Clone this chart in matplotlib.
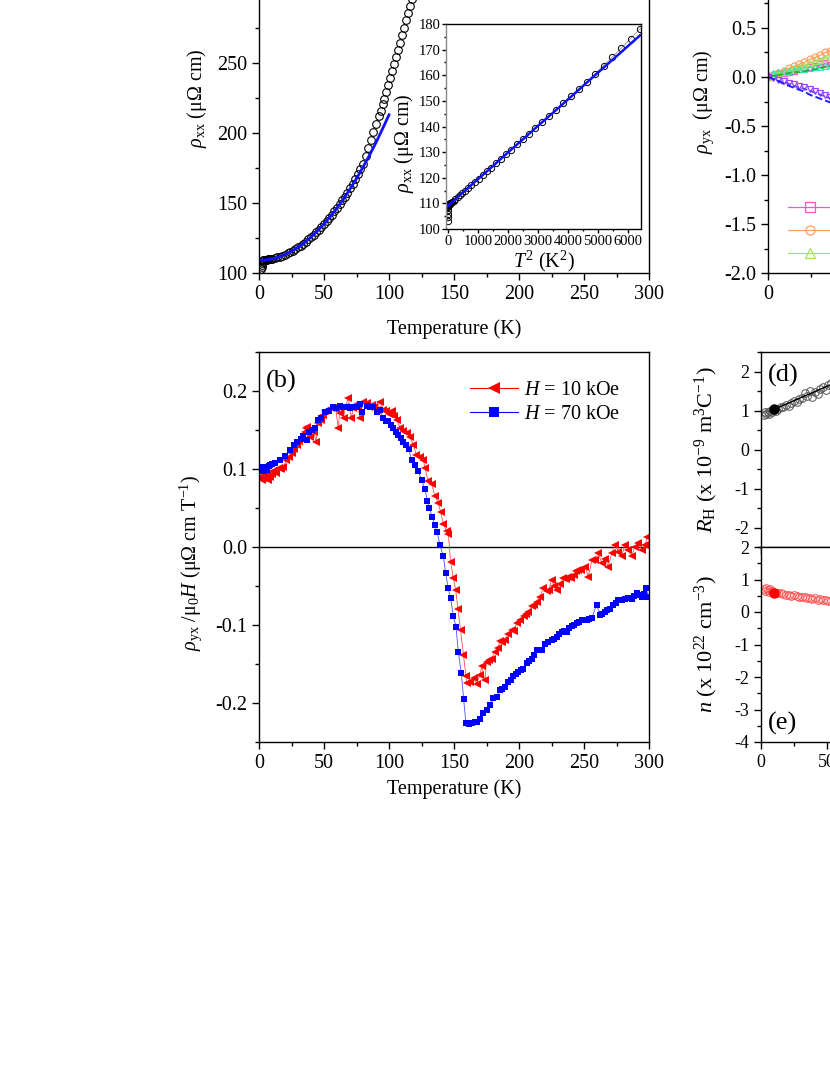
import numpy as np
import matplotlib
matplotlib.use("Agg")
import matplotlib.pyplot as plt
from matplotlib.ticker import MultipleLocator, FormatStrFormatter

plt.rcParams['font.family'] = ['Liberation Serif', 'DejaVu Serif']
plt.rcParams['mathtext.fontset'] = 'custom'
plt.rcParams['mathtext.rm'] = 'Liberation Serif'
plt.rcParams['mathtext.it'] = 'Liberation Serif:italic'
plt.rcParams['mathtext.bf'] = 'Liberation Serif:bold'
plt.rcParams['axes.unicode_minus'] = False

# ---- (a) rho_xx vs T ----
T_a = [1.8, 2.0, 2.2, 2.5, 2.8, 3.2, 4, 5, 6, 7, 8, 9, 10, 12, 14, 16, 18, 20, 22, 24,
       26, 28, 30, 32, 34, 36, 38, 40, 42, 44, 46, 48, 50, 52, 54, 56, 58, 60, 62, 64,
       66, 68, 70, 72, 74, 76, 78, 80, 82, 84, 86, 88, 90, 92, 93.5, 95, 96.5, 98, 99.5,
       101, 102.5, 104, 105.5, 107, 108.5, 110, 111.5, 113, 114.5, 116, 117.5, 119, 120.5]
rho_a = [103.0, 104.5, 106.0, 107.5, 108.5, 109.0, 109.3, 109.4, 109.6, 109.7, 109.9, 110.0,
         110.2, 110.6, 111.1, 111.7, 112.4, 113.2, 114.1, 115.0, 116.0, 117.1, 118.3, 119.6,
         121.0, 122.5, 124.0, 125.6, 127.3, 129.1, 131.0, 133.0, 135.0, 137.1, 139.3, 141.6,
         144.0, 146.5, 149.1, 151.8, 154.6, 157.5, 160.6, 163.8, 167.1, 170.6, 174.3, 178.2,
         183.5, 189.0, 195.0, 201.0, 206.5, 212.0, 216.0, 220.5, 224.5, 229.0, 234.0, 239.0,
         244.0, 249.0, 254.0, 259.0, 264.0, 270.0, 275.0, 280.5, 285.5, 290.5, 295.5, 300.5,
         305.5]
T_fit = [0, 5, 10, 15, 20, 25, 30, 35, 40, 45, 50, 55, 60, 65, 70, 75, 80, 85, 90, 95, 100]
rho_fit = [109.0, 109.3, 110.0, 111.3, 113.2, 115.5, 118.4, 121.7, 125.6, 130.1, 135.0,
           140.5, 146.4, 152.9, 160.0, 167.5, 175.6, 184.1, 193.2, 202.9, 213.0]

# ---- (b) rho_yx / mu0 H vs T ----
T_b70 = [0.8, 1.5, 2.2, 3, 4, 5.5, 6.5, 7.5, 8.5, 10, 12, 16, 20, 24, 27, 29, 32, 34, 36.7,
         38.5, 40.5, 43, 45.6, 48, 50.8, 54, 57, 59.5, 62, 64.5, 67.4, 70, 72.6, 75, 77.7, 79,
         82.8, 85.5, 88, 90.5, 93, 95.6, 97.5, 99.5, 101.5, 103.3, 105, 107, 109, 111, 113,
         115, 117.4, 120, 122.6, 125, 127.7, 129.5, 131, 133.3, 135.4, 137, 139.2, 141.8,
         143.6, 145.4, 147.4, 149.5, 151.5, 153.3, 155.6, 157.4, 159.2, 161.5, 164, 166, 168,
         170, 172.6, 175, 177.7, 180.3, 182.8, 185.4, 187, 189, 191.8, 193.5, 195.6, 197.5,
         199.5, 201.5, 203.3, 205.9, 208, 209.7, 211.5, 213.6, 215.5, 217.4, 220, 222.5, 225,
         227, 229, 231, 232.8, 234.5, 236.7, 238.5, 240.5, 242.5, 244.4, 246.5, 248.2, 250,
         252, 254, 256, 259.7, 262.3, 264, 266, 268, 270, 272.6, 274.5, 276.4, 279, 281.5,
         284, 286.7, 288.5, 290.5, 292.5, 294.4, 296.5, 298, 299.5]
v_b70 = [0.101, 0.098, 0.103, 0.100, 0.097, 0.102, 0.099, 0.104, 0.105, 0.106, 0.108, 0.112,
         0.117, 0.124, 0.131, 0.135, 0.139, 0.142, 0.137, 0.148, 0.150, 0.152, 0.163, 0.166,
         0.173, 0.175, 0.179, 0.178, 0.181, 0.180, 0.180, 0.178, 0.179, 0.180, 0.183, 0.173,
         0.181, 0.180, 0.180, 0.173, 0.176, 0.165, 0.162, 0.161, 0.157, 0.152, 0.148, 0.144,
         0.140, 0.135, 0.131, 0.126, 0.112, 0.105, 0.097, 0.086, 0.074, 0.059, 0.050, 0.038,
         0.028, 0.019, 0.003, -0.012, -0.033, -0.052, -0.065, -0.089, -0.102, -0.134, -0.162,
         -0.195, -0.226, -0.227, -0.225, -0.224, -0.224, -0.220, -0.213, -0.209, -0.203,
         -0.194, -0.192, -0.183, -0.182, -0.180, -0.173, -0.170, -0.166, -0.163, -0.160,
         -0.158, -0.156, -0.149, -0.146, -0.143, -0.139, -0.132, -0.132, -0.132, -0.124,
         -0.122, -0.119, -0.118, -0.115, -0.111, -0.109, -0.108, -0.109, -0.104, -0.101,
         -0.100, -0.098, -0.096, -0.094, -0.094, -0.093, -0.092, -0.091, -0.074, -0.087,
         -0.086, -0.083, -0.081, -0.079, -0.074, -0.072, -0.068, -0.068, -0.067, -0.066,
         -0.067, -0.063, -0.059, -0.062, -0.064, -0.060, -0.053, -0.064]
T_b10 = [1, 2, 3.3, 4.5, 6, 7, 8.5, 10, 11, 13, 15, 17, 18.7, 21, 23, 25, 27, 29, 31, 33, 35,
         36, 37, 39, 40.5, 42, 44, 45.6, 47.5, 49.5, 51, 53, 55, 57, 59, 61, 62, 65, 66.5,
         68.7, 71, 72.5, 74, 76, 77.7, 80, 82.8, 84.5, 86.7, 88.5, 90.5, 93, 95.6, 98, 100,
         102, 104, 106, 108.5, 111, 113.6, 116, 118.7, 121, 123.8, 126.4, 127.7, 130, 132.8,
         135.4, 138, 139.7, 141.8, 144.4, 145.6, 147.4, 149.5, 151.3, 153, 155, 157.2, 159.2,
         159.8, 162.3, 165, 167.4, 170, 171.3, 173.8, 175, 177, 179, 181.5, 183.5, 185.4, 187,
         189, 191.8, 194.4, 196, 198.2, 200.8, 203.8, 205.5, 207.2, 209.7, 211.5, 213.6, 216,
         218.7, 221.3, 223, 225, 227, 229, 231.5, 234, 236, 238, 240, 242, 244, 245.6, 248,
         250.8, 253.3, 256, 258.5, 261, 263.8, 266, 268.7, 271.3, 274, 276.4, 279, 281.5, 284,
         286.7, 289, 291.8, 294.4, 297, 298.5]
v_b10 = [0.090, 0.086, 0.088, 0.092, 0.094, 0.086, 0.090, 0.093, 0.097, 0.095, 0.101, 0.100,
         0.103, 0.111, 0.116, 0.120, 0.126, 0.131, 0.136, 0.141, 0.148, 0.152, 0.154, 0.141,
         0.150, 0.148, 0.135, 0.159, 0.163, 0.169, 0.174, 0.176, 0.178, 0.178, 0.177, 0.152,
         0.172, 0.166, 0.180, 0.191, 0.165, 0.178, 0.182, 0.180, 0.166, 0.186, 0.184, 0.180,
         0.182, 0.179, 0.176, 0.186, 0.176, 0.174, 0.170, 0.174, 0.168, 0.163, 0.153, 0.149,
         0.146, 0.141, 0.131, 0.118, 0.116, 0.112, 0.101, 0.084, 0.081, 0.065, 0.056, 0.045,
         0.030, 0.020, 0.017, -0.019, -0.040, -0.055, -0.079, -0.106, -0.138, -0.166, -0.174,
         -0.173, -0.168, -0.175, -0.164, -0.153, -0.171, -0.147, -0.145, -0.143, -0.134,
         -0.130, -0.121, -0.122, -0.119, -0.111, -0.106, -0.108, -0.098, -0.094, -0.089,
         -0.086, -0.083, -0.076, -0.074, -0.070, -0.064, -0.053, -0.057, -0.055, -0.042,
         -0.050, -0.055, -0.047, -0.040, -0.041, -0.038, -0.040, -0.036, -0.031, -0.029,
         -0.029, -0.025, -0.038, -0.017, -0.017, -0.008, -0.021, -0.015, -0.025, -0.008,
         0.003, -0.006, -0.012, 0.003, -0.004, -0.012, 0.000, 0.005, -0.004, 0.002, 0.013]

# ---- (c) rho_yx vs H (left edge only) ----
H_c = [0, 1.2, 2.4, 3.6, 4.8, 6.0, 7.2, 8.4, 9.6, 10.8, 12.0, 13.2, 14.4]
c_pink = [0, 0.01, 0.03, 0.04, 0.05, 0.06, 0.08, 0.09, 0.10, 0.11, 0.13, 0.14, 0.15]
c_orange = [0, 0.02, 0.04, 0.06, 0.09, 0.11, 0.13, 0.15, 0.18, 0.20, 0.22, 0.25, 0.27]
c_lgreen = [0, 0.02, 0.03, 0.05, 0.07, 0.09, 0.10, 0.12, 0.14, 0.16, 0.17, 0.19, 0.21]
c_cyan = [0.03, 0.04, 0.05, 0.06, 0.06, 0.07, 0.08, 0.08, 0.09, 0.10, 0.10, 0.11, 0.12]
c_green = [0, 0.01, 0.02, 0.03, 0.04, 0.05, 0.05, 0.06, 0.07, 0.08, 0.09, 0.10, 0.11]
c_purple = [0, -0.01, -0.03, -0.04, -0.06, -0.07, -0.09, -0.10, -0.12, -0.14, -0.16, -0.18, -0.20]
c_violet = [0, -0.02, -0.04, -0.05, -0.07, -0.09, -0.11, -0.12, -0.14, -0.16, -0.18, -0.20, -0.22]
c_blue = [0, -0.02, -0.04, -0.07, -0.09, -0.11, -0.13, -0.15, -0.18, -0.20, -0.22, -0.24, -0.26]
c_labels = ['2 K', '10 K', '50 K']

# ---- (d), (e) R_H and n vs T ----
T_de = [2, 3, 4, 5, 6, 7, 8, 9, 11, 13, 15, 17, 19, 21, 23, 25, 27, 29, 31, 33, 35, 37, 39,
        41, 43, 45, 47, 49, 51, 53]
RH = [0.88, 0.95, 0.90, 0.97, 0.92, 1.00, 0.95, 1.02, 0.98, 1.05, 1.08, 1.10, 1.13, 1.12,
      1.20, 1.24, 1.22, 1.30, 1.32, 1.45, 1.38, 1.50, 1.35, 1.48, 1.42, 1.55, 1.60, 1.52,
      1.65, 1.70]
n_e = [0.72, 0.65, 0.75, 0.68, 0.62, 0.70, 0.66, 0.63, 0.60, 0.58, 0.57, 0.55, 0.53, 0.52,
       0.50, 0.51, 0.48, 0.47, 0.45, 0.46, 0.42, 0.44, 0.40, 0.43, 0.38, 0.40, 0.37, 0.36,
       0.34, 0.35]
T_line_d = [10, 60]
RH_line = [1.03, 1.77]
T_mark = [10]
RH_mark = [1.03]
n_mark = [0.60]

W, H = 830, 1075
fig = plt.figure(figsize=(W / 100, H / 100), dpi=100)


def rect(l, t, r, b):
    return [l / W, 1 - b / H, (r - l) / W, (b - t) / H]


def style(ax, size=14.5):
    ax.tick_params(which='both', direction='out', top=False, right=False,
                   labelsize=size, width=1.0)
    ax.tick_params(which='major', length=5)
    ax.tick_params(which='minor', length=3)
    for s in ax.spines.values():
        s.set_linewidth(1.0)


fs = 14.5

# (a)
ax_a = fig.add_axes(rect(259, -77, 649, 273))
ax_a.plot(T_a, rho_a, 'o', mfc='none', mec='k', ms=5.5, mew=0.8)
ax_a.plot(T_fit, rho_fit, color='#1010ff', lw=2)
ax_a.set_xlim(0, 300)
ax_a.set_ylim(100, 350)
ax_a.xaxis.set_major_locator(MultipleLocator(50))
ax_a.xaxis.set_minor_locator(MultipleLocator(25))
ax_a.yaxis.set_major_locator(MultipleLocator(50))
ax_a.yaxis.set_minor_locator(MultipleLocator(25))
style(ax_a)
ax_a.set_xlabel('Temperature (K)', fontsize=fs, labelpad=11)
ax_a.set_ylabel(r'$\rho_{\rm xx}$ (μΩ cm)', fontsize=fs, labelpad=6)

# inset
ax_in = fig.add_axes(rect(446, 24, 641, 229))
T_in = [t for t in T_a if t <= 80]
rho_in = rho_a[:len(T_in)]
ax_in.plot(np.square(T_in), rho_in, '-', color='#999999', lw=0.6)
ax_in.plot(np.square(T_in), rho_in, 'o', mfc='none', mec='k', ms=4.5, mew=0.7)
ax_in.plot(np.square(T_fit[:17]), rho_fit[:17], color='#1010ff', lw=1.8)
ax_in.set_xlim(-60, 6430)
ax_in.set_ylim(100, 180)
ax_in.xaxis.set_major_locator(MultipleLocator(1000))
ax_in.xaxis.set_minor_locator(MultipleLocator(500))
ax_in.yaxis.set_major_locator(MultipleLocator(10))
ax_in.yaxis.set_minor_locator(MultipleLocator(5))
style(ax_in, size=10.5)
ax_in.tick_params(which='major', length=3, pad=1)
ax_in.tick_params(which='minor', length=1.5)
ax_in.spines['left'].set_color('#888888')
ax_in.set_xlabel(r'$T^2$ (K$^2$)', fontsize=fs, labelpad=1)
ax_in.set_ylabel(r'$\rho_{\rm xx}$ (μΩ cm)', fontsize=fs)
ax_in.yaxis.set_label_coords(-0.155, 0.42)

# (b)
ax_b = fig.add_axes(rect(259, 352, 649, 742))
ax_b.axhline(0, color='k', lw=1.0)
ax_b.plot(T_b10, v_b10, '-', color='#ff5050', lw=0.6)
ax_b.plot(T_b70, v_b70, '-', color='#5050ff', lw=0.6)
ax_b.plot(T_b10, v_b10, '<', color='#ff0000', ms=5.8, mew=0)
ax_b.plot(T_b70, v_b70, 's', color='#0000ff', ms=4.3, mew=0)
h10, = ax_b.plot([], [], '-<', color='#ff0000', lw=0.8, ms=8, mew=0)
h70, = ax_b.plot([], [], '-s', color='#0000ff', lw=0.8, ms=6.5, mew=0)
ax_b.legend([h10, h70], [r'$H$ = 10 kOe', r'$H$ = 70 kOe'], loc='upper left',
            bbox_to_anchor=(0.541, 0.927), frameon=False, fontsize=fs,
            handlelength=2.4, handletextpad=0.3, labelspacing=0.25,
            borderpad=0, borderaxespad=0)
ax_b.set_xlim(0, 300)
ax_b.set_ylim(-0.25, 0.25)
ax_b.xaxis.set_major_locator(MultipleLocator(50))
ax_b.xaxis.set_minor_locator(MultipleLocator(25))
ax_b.yaxis.set_major_locator(MultipleLocator(0.1))
ax_b.yaxis.set_minor_locator(MultipleLocator(0.05))
style(ax_b)
ax_b.set_xlabel('Temperature (K)', fontsize=fs, labelpad=5)
ax_b.set_ylabel(r'$\rho_{\rm yx}$ /μ$_0$$H$ (μΩ cm T$^{-1}$)', fontsize=fs)
ax_b.yaxis.set_label_coords(-0.14, 0.46)
ax_b.text(0.018, 0.955, '(b)', transform=ax_b.transAxes, fontsize=19, va='top')

# (c)
ax_c = fig.add_axes(rect(768, -70, 1158, 273))
hp, = ax_c.plot(H_c, c_pink, '-s', color='#ff55bb', mfc='none', ms=5, mew=0.9, lw=0.9)
ho, = ax_c.plot(H_c, c_orange, '-o', color='#ffa060', mfc='none', ms=5, mew=0.9, lw=0.9)
hg, = ax_c.plot(H_c, c_lgreen, '-^', color='#a8e060', mfc='none', ms=5, mew=0.9, lw=0.9)
ax_c.plot(H_c, c_cyan, '^', color='#40e0b0', mfc='none', ms=5, mew=0.9)
ax_c.plot(H_c, c_green, '--', color='#20b020', lw=1.2)
ax_c.plot(H_c, c_purple, 'v', color='#a040ff', mfc='none', ms=5, mew=0.9)
ax_c.plot(H_c, c_violet, '--', color='#6040ff', lw=1.2)
ax_c.plot(H_c, c_blue, '--', color='#2020ff', lw=1.4)
ax_c.legend([hp, ho, hg], c_labels, loc='upper left', bbox_to_anchor=(0.051, 0.213),
            frameon=False, fontsize=fs, handlelength=2.15, labelspacing=0.2,
            borderpad=0, borderaxespad=0, markerscale=1.3)
ax_c.set_xlim(0, 90)
ax_c.set_ylim(-2.0, 1.5)
ax_c.xaxis.set_major_locator(MultipleLocator(20))
ax_c.xaxis.set_minor_locator(MultipleLocator(10))
ax_c.yaxis.set_major_locator(MultipleLocator(0.5))
ax_c.yaxis.set_minor_locator(MultipleLocator(0.25))
ax_c.yaxis.set_major_formatter(FormatStrFormatter('%.1f'))
style(ax_c)
ax_c.set_ylabel(r'$\rho_{\rm yx}$  (μΩ cm)', fontsize=fs, labelpad=6)

# (d)
ax_d = fig.add_axes(rect(761, 352, 1157, 547))
ax_d.plot(T_de, RH, 'o', mfc='none', mec='#555555', ms=5.5, mew=0.7)
ax_d.plot(T_line_d, RH_line, '-', color='k', lw=1.0)
ax_d.plot(T_mark, RH_mark, 'o', color='k', ms=6.5)
ax_d.set_xlim(0, 300)
ax_d.set_ylim(-2.5, 2.5)
ax_d.xaxis.set_major_locator(MultipleLocator(50))
ax_d.xaxis.set_minor_locator(MultipleLocator(25))
ax_d.yaxis.set_major_locator(MultipleLocator(1))
ax_d.yaxis.set_minor_locator(MultipleLocator(0.5))
style(ax_d, size=13)
ax_d.tick_params(axis='x', labelbottom=False)
ax_d.set_ylabel(r'$R_{\rm H}$ (x 10$^{-9}$ m$^3$C$^{-1}$)', fontsize=16, labelpad=10)
ax_d.text(0.018, 0.94, '(d)', transform=ax_d.transAxes, fontsize=19, va='top')

# (e)
ax_e = fig.add_axes(rect(761, 547, 1157, 742))
ax_e.plot(T_de, n_e, 'o', mfc='none', mec='#ff5050', ms=5.5, mew=0.7)
ax_e.plot(T_mark, n_mark, 'o', color='#ff0000', ms=6.5)
ax_e.set_xlim(0, 300)
ax_e.set_ylim(-4, 2)
ax_e.xaxis.set_major_locator(MultipleLocator(50))
ax_e.xaxis.set_minor_locator(MultipleLocator(25))
ax_e.yaxis.set_major_locator(MultipleLocator(1))
ax_e.yaxis.set_minor_locator(MultipleLocator(0.5))
style(ax_e, size=13)
ax_e.set_ylabel(r'$n$ (x 10$^{22}$ cm$^{-3}$)', fontsize=16, labelpad=10)
ax_e.text(0.018, 0.035, '(e)', transform=ax_e.transAxes, fontsize=19, va='bottom')

fig.savefig('out.png', dpi=100)
